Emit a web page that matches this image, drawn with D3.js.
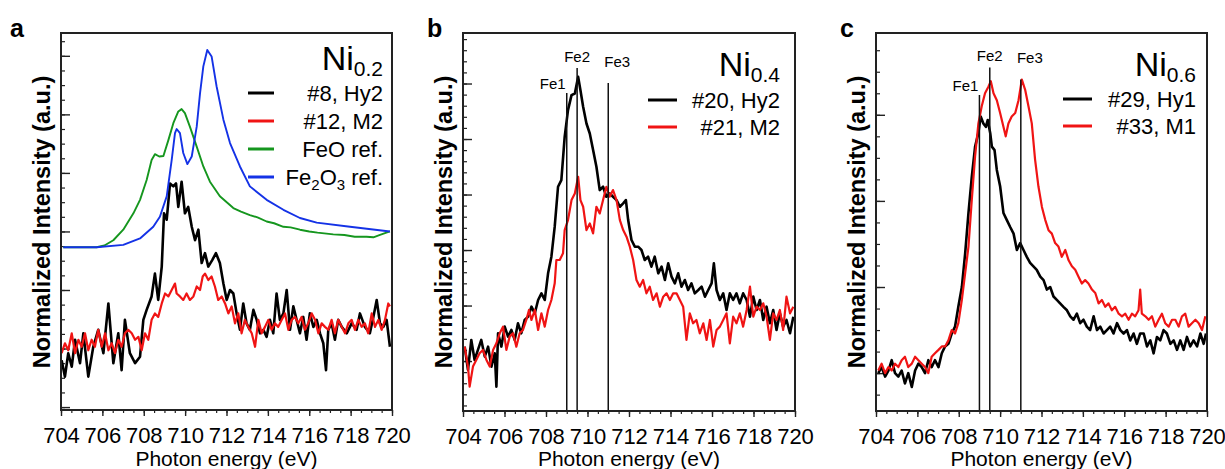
<!DOCTYPE html>
<html>
<head>
<meta charset="utf-8">
<script src="https://cdn.jsdelivr.net/npm/d3@7"></script>
<style>
  body { margin: 0; background: #fff; }
  svg { font-family: "Liberation Sans", Arial, sans-serif; }
  .tickLbl { font-size: 22px; fill: #000; }
  .axTitle { font-size: 21px; fill: #000; }
  .yTitle { font-size: 23.5px; font-weight: bold; fill: #000; }
  .panelLetter { font-size: 25px; font-weight: bold; fill: #000; }
  .leg { font-size: 22px; fill: #000; }
  .feLbl { font-size: 15px; fill: #000; }
</style>
</head>
<body>
<div id="chart"></div>
<script>
// x axis (same for all panels)
var xDomain = [704, 720];
var xMajor = [704, 706, 708, 710, 712, 714, 716, 718, 720];

// peak markers Fe1, Fe2, Fe3 (eV)
var feNames = ["Fe1", "Fe2", "Fe3"];
var feEnergy = [709.0, 709.5, 711.0];

// ---- panel a : Ni0.2 ----
var a_hy2 = [[704.03,0.80],[704.19,0.52],[704.35,0.92],[704.52,0.69],[704.68,1.15],[704.92,0.75],[705.08,1.26],[705.32,0.52],[705.56,1.03],[705.80,1.32],[706.05,0.92],[706.29,1.77],[706.53,0.75],[706.77,1.26],[706.93,0.63],[707.09,1.49],[707.33,0.92],[707.58,0.75],[707.82,0.86],[707.98,1.49],[708.14,1.66],[708.38,1.89],[708.54,2.28],[708.70,1.83],[708.87,2.40],[708.98,3.31],[709.11,3.20],[709.27,3.82],[709.43,3.77],[709.56,3.82],[709.67,3.42],[709.83,3.85],[709.99,3.31],[710.15,3.42],[710.32,3.08],[710.48,2.85],[710.64,3.03],[710.80,2.46],[710.96,2.63],[711.12,2.40],[711.31,2.51],[711.49,2.63],[711.68,2.46],[711.85,2.11],[712.01,1.83],[712.17,2.00],[712.33,1.94],[712.49,1.60],[712.65,1.32],[712.81,1.77],[712.97,1.43],[713.13,1.32],[713.30,1.66],[713.46,1.49],[713.62,1.26],[713.78,1.32],[713.94,1.20],[714.10,1.49],[714.26,1.26],[714.42,1.94],[714.58,1.49],[714.75,1.60],[714.91,2.00],[715.07,1.32],[715.23,1.72],[715.39,1.49],[715.55,1.26],[715.71,1.54],[715.87,1.15],[716.03,1.60],[716.20,1.37],[716.36,1.49],[716.52,1.26],[716.68,1.09],[716.81,0.63],[716.92,1.32],[717.08,1.43],[717.24,1.15],[717.40,1.49],[717.57,1.37],[717.81,1.26],[718.05,1.43],[718.29,1.32],[718.45,1.60],[718.69,1.37],[718.93,1.26],[719.10,1.54],[719.26,1.83],[719.42,1.43],[719.58,1.37],[719.74,1.49],[719.90,1.03]];

var a_m2 = [[704.03,0.92],[704.19,1.09],[704.35,0.97],[704.52,1.26],[704.68,0.92],[704.84,1.15],[705.00,1.03],[705.16,1.26],[705.32,0.97],[705.48,1.15],[705.64,1.03],[705.80,1.32],[705.97,1.03],[706.13,1.26],[706.29,0.97],[706.45,1.09],[706.61,0.92],[706.77,1.15],[706.93,1.03],[707.09,1.26],[707.25,1.32],[707.42,1.26],[707.58,1.15],[707.74,1.20],[707.90,0.97],[708.06,1.26],[708.22,1.15],[708.38,1.49],[708.54,1.60],[708.70,1.54],[708.87,1.77],[709.03,1.94],[709.19,1.89],[709.35,2.00],[709.51,2.11],[709.59,1.94],[709.75,1.89],[709.91,1.83],[710.07,1.94],[710.23,1.83],[710.40,1.89],[710.56,2.06],[710.72,2.00],[710.85,2.23],[710.96,2.28],[711.12,2.17],[711.28,2.23],[711.44,2.06],[711.60,1.83],[711.77,1.89],[711.93,1.77],[712.09,1.60],[712.25,1.72],[712.41,1.43],[712.57,1.60],[712.73,1.26],[712.89,1.49],[713.05,1.37],[713.22,1.26],[713.38,1.03],[713.54,1.49],[713.70,1.26],[713.86,1.37],[714.02,1.49],[714.18,1.32],[714.34,1.43],[714.50,1.37],[714.67,1.49],[714.83,1.60],[714.99,1.32],[715.15,1.49],[715.31,1.54],[715.47,1.43],[715.63,1.54],[715.79,1.32],[715.95,1.43],[716.12,1.60],[716.28,1.49],[716.44,1.26],[716.60,1.43],[716.76,1.37],[716.92,1.32],[717.08,1.49],[717.24,1.26],[717.40,1.49],[717.57,1.37],[717.73,1.26],[717.89,1.43],[718.05,1.49],[718.21,1.32],[718.37,1.49],[718.53,1.37],[718.69,1.43],[718.85,1.26],[719.02,1.60],[719.18,1.37],[719.34,1.49],[719.50,1.32],[719.66,1.49],[719.82,1.77],[719.90,1.72]];

var a_feo = [[704.11,2.73],[705.72,2.73],[706.10,2.76],[706.53,2.85],[707.01,3.03],[707.50,3.31],[707.82,3.54],[708.14,3.88],[708.38,4.22],[708.54,4.32],[708.75,4.28],[708.95,4.29],[709.19,4.56],[709.43,4.85],[709.67,5.05],[709.83,5.09],[709.99,5.02],[710.23,4.79],[710.56,4.45],[710.88,4.11],[711.20,3.85],[711.68,3.60],[712.33,3.40],[712.70,3.34],[713.13,3.28],[713.50,3.24],[713.94,3.17],[714.30,3.14],[714.75,3.08],[715.10,3.07],[715.55,3.03],[716.00,3.00],[716.40,2.98],[717.16,2.95],[717.70,2.94],[718.20,2.91],[718.77,2.91],[719.10,2.90],[719.42,2.94],[719.90,3.00]];

var a_fe2o3 = [[704.11,2.73],[705.72,2.73],[707.01,2.77],[707.82,2.88],[708.46,3.08],[708.78,3.25],[709.11,3.60],[709.35,4.22],[709.51,4.68],[709.59,4.75],[709.75,4.68],[709.91,4.34],[710.11,4.15],[710.32,4.28],[710.56,4.79],[710.72,5.36],[710.88,5.82],[711.07,6.10],[711.28,5.99],[711.52,5.48],[711.85,4.91],[712.17,4.51],[712.65,4.11],[713.13,3.77],[713.94,3.54],[714.75,3.37],[715.55,3.23],[716.36,3.15],[717.97,3.08],[719.90,3.00]];

// ---- panel b : Ni0.4 ----
var b_hy2 = [[704.08,0.26],[704.24,-0.16],[704.40,0.38],[704.56,0.02],[704.72,0.20],[704.88,0.38],[705.05,0.08],[705.21,0.26],[705.37,-0.10],[705.53,0.14],[705.61,-0.46],[705.69,0.50],[705.85,0.26],[706.01,0.62],[706.17,0.44],[706.33,0.56],[706.49,0.38],[706.65,0.68],[706.81,0.50],[706.97,0.74],[707.14,0.80],[707.30,0.98],[707.46,0.86],[707.62,1.10],[707.78,1.22],[707.94,1.10],[708.10,1.58],[708.26,1.88],[708.42,2.42],[708.58,3.14],[708.74,3.26],[708.90,4.04],[709.06,4.52],[709.23,4.79],[709.39,4.82],[709.55,5.12],[709.66,4.88],[709.79,4.58],[709.95,4.28],[710.11,4.10],[710.27,3.80],[710.43,3.50],[710.59,3.08],[710.75,3.14],[710.91,2.96],[711.07,3.02],[711.23,2.96],[711.40,2.90],[711.56,2.78],[711.72,2.84],[711.85,2.90],[711.96,2.54],[712.12,2.18],[712.28,2.06],[712.44,2.06],[712.60,2.00],[712.76,1.82],[712.92,1.88],[713.08,1.70],[713.24,1.88],[713.41,1.58],[713.57,1.70],[713.73,1.46],[713.89,1.76],[714.05,1.52],[714.21,1.40],[714.37,1.58],[714.53,1.34],[714.69,1.46],[714.85,1.28],[715.01,1.40],[715.17,1.22],[715.34,1.28],[715.50,1.34],[715.66,1.16],[715.82,1.28],[715.98,1.40],[716.09,1.76],[716.22,1.28],[716.38,1.10],[716.54,1.22],[716.70,0.92],[716.86,1.22],[717.02,1.10],[717.18,1.22],[717.34,1.04],[717.50,1.22],[717.67,1.10],[717.83,0.80],[717.99,1.16],[718.15,0.92],[718.31,1.10],[718.47,0.74],[718.63,0.98],[718.79,0.68],[718.95,0.92],[719.11,0.56],[719.27,0.86],[719.43,0.62],[719.59,0.74],[719.76,0.50],[719.92,0.80]];

var b_m2 = [[704.08,0.26],[704.24,-0.10],[704.32,-0.46],[704.48,-0.10],[704.64,0.02],[704.80,0.14],[704.96,0.20],[705.13,0.02],[705.29,-0.10],[705.45,0.20],[705.61,0.32],[705.77,0.50],[705.93,0.62],[706.09,0.20],[706.25,0.44],[706.41,0.50],[706.57,0.26],[706.73,0.50],[706.89,0.56],[707.05,0.74],[707.18,0.92],[707.30,0.74],[707.46,0.92],[707.62,0.56],[707.78,0.86],[707.94,0.62],[708.10,0.92],[708.26,1.10],[708.42,1.40],[708.50,1.82],[708.66,1.82],[708.82,1.94],[708.90,2.36],[709.06,2.54],[709.23,2.90],[709.39,3.02],[709.55,3.32],[709.66,2.90],[709.79,2.78],[709.95,2.36],[710.11,2.48],[710.27,2.30],[710.43,2.78],[710.59,2.66],[710.75,2.90],[710.91,3.14],[711.07,2.96],[711.23,3.08],[711.40,2.90],[711.56,2.54],[711.72,2.36],[711.88,2.24],[712.04,2.06],[712.20,1.82],[712.36,1.46],[712.52,1.34],[712.68,1.46],[712.84,1.22],[713.00,1.34],[713.16,1.10],[713.33,1.22],[713.49,0.98],[713.65,1.16],[713.81,1.22],[713.97,1.10],[714.13,1.22],[714.29,1.22],[714.45,1.10],[714.61,0.98],[714.77,0.38],[714.93,0.86],[715.09,0.68],[715.25,0.74],[715.41,0.50],[715.58,0.68],[715.74,0.38],[715.90,0.74],[716.06,0.26],[716.22,0.56],[716.38,0.62],[716.54,0.74],[716.70,0.86],[716.86,0.32],[717.02,0.80],[717.18,0.68],[717.34,0.86],[717.50,0.62],[717.67,0.92],[717.83,1.34],[717.99,0.80],[718.15,0.98],[718.31,0.92],[718.47,1.04],[718.63,0.80],[718.79,0.38],[718.95,0.86],[719.11,0.74],[719.27,0.92],[719.43,0.56],[719.59,1.16],[719.76,0.86],[719.92,0.98]];

var b_feTop = [4.83, 5.28, 5.01];

// ---- panel c : Ni0.6 ----
var c_hy1 = [[704.11,0.00],[704.27,0.07],[704.44,-0.04],[704.60,0.03],[704.76,0.15],[704.92,0.00],[705.08,-0.04],[705.24,0.03],[705.40,-0.12],[705.56,0.00],[705.73,-0.16],[705.89,0.03],[706.05,0.11],[706.21,0.07],[706.37,0.00],[706.53,0.15],[706.69,0.07],[706.85,0.15],[707.02,0.07],[707.18,0.23],[707.34,0.31],[707.50,0.34],[707.66,0.46],[707.82,0.54],[707.98,0.77],[708.15,1.00],[708.31,1.39],[708.47,1.86],[708.63,2.28],[708.79,2.63],[708.95,2.79],[709.06,2.98],[709.19,2.90],[709.31,2.86],[709.40,2.94],[709.52,2.79],[709.60,2.63],[709.73,2.59],[709.84,2.36],[710.00,2.17],[710.16,1.86],[710.32,1.78],[710.48,1.70],[710.65,1.62],[710.81,1.43],[710.97,1.51],[711.13,1.43],[711.29,1.35],[711.45,1.28],[711.61,1.24],[711.77,1.20],[711.94,1.12],[712.10,1.08],[712.26,0.97],[712.42,1.00],[712.58,0.89],[712.74,0.85],[712.90,0.81],[713.06,0.77],[713.23,0.73],[713.39,0.66],[713.55,0.62],[713.71,0.69],[713.87,0.58],[714.03,0.62],[714.19,0.54],[714.35,0.50],[714.52,0.66],[714.68,0.50],[714.84,0.54],[715.00,0.46],[715.16,0.50],[715.32,0.54],[715.48,0.46],[715.65,0.58],[715.81,0.50],[715.97,0.46],[716.13,0.50],[716.29,0.38],[716.45,0.46],[716.61,0.34],[716.77,0.46],[716.94,0.46],[717.10,0.31],[717.26,0.38],[717.42,0.23],[717.58,0.42],[717.74,0.38],[717.90,0.50],[718.06,0.46],[718.23,0.34],[718.39,0.38],[718.55,0.27],[718.71,0.38],[718.87,0.27],[719.03,0.42],[719.19,0.31],[719.35,0.38],[719.52,0.31],[719.68,0.46],[719.84,0.34],[719.95,0.46]];

var c_m1 = [[704.11,0.03],[704.27,0.11],[704.44,0.00],[704.60,0.07],[704.76,0.03],[704.92,0.11],[705.08,0.07],[705.24,0.15],[705.40,0.19],[705.56,0.07],[705.73,0.11],[705.89,0.19],[706.05,0.15],[706.21,0.11],[706.37,0.07],[706.53,0.00],[706.69,0.19],[706.85,0.23],[707.02,0.27],[707.18,0.31],[707.34,0.31],[707.50,0.38],[707.66,0.50],[707.82,0.46],[707.98,0.58],[708.15,0.85],[708.31,1.16],[708.47,1.47],[708.63,2.01],[708.79,2.52],[708.95,2.90],[709.11,3.10],[709.27,3.25],[709.44,3.33],[709.55,3.39],[709.68,3.25],[709.84,3.17],[710.00,3.02],[710.16,2.86],[710.27,2.75],[710.40,2.90],[710.56,2.98],[710.73,3.02],[710.89,3.17],[711.05,3.41],[711.21,3.29],[711.37,3.10],[711.53,2.90],[711.69,2.48],[711.85,2.17],[712.02,1.93],[712.18,1.78],[712.34,1.66],[712.50,1.62],[712.66,1.51],[712.82,1.47],[712.98,1.35],[713.15,1.43],[713.31,1.31],[713.47,1.24],[713.63,1.20],[713.79,1.12],[713.95,1.04],[714.11,1.08],[714.27,1.04],[714.44,0.97],[714.60,0.93],[714.76,0.81],[714.92,0.85],[715.08,0.77],[715.24,0.81],[715.40,0.73],[715.56,0.77],[715.73,0.69],[715.89,0.66],[716.05,0.69],[716.21,0.62],[716.37,0.69],[716.53,0.66],[716.69,0.73],[716.77,0.97],[716.85,0.69],[717.02,0.66],[717.18,0.62],[717.34,0.66],[717.50,0.54],[717.66,0.62],[717.82,0.69],[717.98,0.58],[718.15,0.54],[718.31,0.62],[718.47,0.62],[718.63,0.54],[718.79,0.66],[718.95,0.69],[719.11,0.54],[719.27,0.58],[719.44,0.62],[719.60,0.58],[719.76,0.50],[719.92,0.66]];

var c_feTop = [3.23, 3.55, 3.41];

var W = 1225, H = 469;
var svg = d3.select("#chart").append("svg")
  .attr("width", W).attr("height", H);

var panels = [
  { letter: "a", left: 61, right: 392, top: 33, bottom: 410, yDom: [-0.05, 6.39], minor: 0.25,
    sub: "0.2", legRight: 383, niY: 70, legY: 93, legStep: 28, lineX: [248, 274],
    series: [
      { name: "#8, Hy2", data: a_hy2, color: "#000", w: 2.6 },
      { name: "#12, M2", data: a_m2, color: "#f01414", w: 2.2 },
      { name: "FeO ref.", data: a_feo, color: "#15961e", w: 1.9 },
      { name: "Fe2O3 ref.", data: a_fe2o3, color: "#1432e6", w: 1.9 }
    ] },
  { letter: "b", left: 463, right: 795, top: 33, bottom: 411, yDom: [-0.9, 5.91], minor: 0.2,
    sub: "0.4", legRight: 780, niY: 76, legY: 100, legStep: 27, lineX: [648, 677], fe: b_feTop,
    series: [
      { name: "#20, Hy2", data: b_hy2, color: "#000", w: 2.6 },
      { name: "#21, M2", data: b_m2, color: "#f01414", w: 2.2 }
    ] },
  { letter: "c", left: 876, right: 1207, top: 33, bottom: 411, yDom: [-0.44, 3.95], minor: 0.25,
    sub: "0.6", legRight: 1196, niY: 76, legY: 99, legStep: 27, lineX: [1063, 1092], fe: c_feTop,
    series: [
      { name: "#29, Hy1", data: c_hy1, color: "#000", w: 2.6 },
      { name: "#33, M1", data: c_m1, color: "#f01414", w: 2.2 }
    ] }
];

panels.forEach(function(p) {
  var x = d3.scaleLinear().domain(xDomain).range([p.left, p.right]);
  var y = d3.scaleLinear().domain(p.yDom).range([p.bottom, p.top]);
  var g = svg.append("g");

  // y ticks (inside, no labels)
  var yMajor = d3.range(Math.ceil(p.yDom[0]), p.yDom[1], 1);
  var yMinor = d3.range(Math.ceil(p.yDom[0] / p.minor) * p.minor, p.yDom[1], p.minor);
  g.append("g").attr("transform", "translate(" + p.left + ",0)")
    .call(d3.axisLeft(y).tickValues(yMinor).tickSize(-4).tickFormat(""))
    .call(function(s) { s.select(".domain").remove(); s.selectAll("line").attr("stroke", "#222").attr("stroke-width", 1.2); });
  g.append("g").attr("transform", "translate(" + p.left + ",0)")
    .call(d3.axisLeft(y).tickValues(yMajor).tickSize(-9).tickFormat(""))
    .call(function(s) { s.select(".domain").remove(); s.selectAll("line").attr("stroke", "#222").attr("stroke-width", 1.4); });

  // x ticks (outside)
  g.append("g").attr("transform", "translate(0," + p.bottom + ")")
    .call(d3.axisBottom(x).tickValues(d3.range(704, 720.01, 0.5)).tickSize(3).tickFormat(""))
    .call(function(s) { s.select(".domain").remove(); s.selectAll("line").attr("stroke", "#222").attr("stroke-width", 1.2); });
  var xa = g.append("g").attr("transform", "translate(0," + p.bottom + ")")
    .call(d3.axisBottom(x).tickValues(xMajor).tickSize(6).tickPadding(11).tickFormat(d3.format("d")));
  xa.select(".domain").remove();
  xa.selectAll("line").attr("stroke", "#222").attr("stroke-width", 1.4);
  xa.selectAll("text").attr("class", "tickLbl").attr("font-family", null).attr("font-size", null).attr("fill", null);

  // curves
  var line = d3.line().x(function(d) { return x(d[0]); }).y(function(d) { return y(d[1]); });
  p.series.forEach(function(s) {
    g.append("path").datum(s.data)
      .attr("fill", "none").attr("stroke", s.color).attr("stroke-width", s.w)
      .attr("stroke-linejoin", "round").attr("d", line);
  });

  // Fe marker lines
  if (p.fe) {
    var lblDx = [-14, 0, 9], lblDy = [-4, -6, -16];
    feEnergy.forEach(function(e, i) {
      g.append("line").attr("x1", x(e)).attr("x2", x(e))
        .attr("y1", p.bottom).attr("y2", y(p.fe[i]))
        .attr("stroke", "#111").attr("stroke-width", 1.5);
      g.append("text").attr("class", "feLbl").attr("text-anchor", "middle")
        .attr("x", x(e) + lblDx[i]).attr("y", y(p.fe[i]) + lblDy[i]).text(feNames[i]);
    });
  }

  // frame
  g.append("rect").attr("x", p.left).attr("y", p.top)
    .attr("width", p.right - p.left).attr("height", p.bottom - p.top)
    .attr("fill", "none").attr("stroke", "#222").attr("stroke-width", 2);

  // legend title Ni_x
  var ni = g.append("text").attr("class", "leg").attr("text-anchor", "end")
    .attr("x", p.legRight).attr("y", p.niY);
  ni.append("tspan").attr("font-size", 34).text("Ni");
  ni.append("tspan").attr("font-size", 21).attr("dy", 6).text(p.sub);

  p.series.forEach(function(s, i) {
    var ly = p.legY + i * p.legStep;
    g.append("line").attr("x1", p.lineX[0]).attr("x2", p.lineX[1])
      .attr("y1", ly).attr("y2", ly).attr("stroke", s.color).attr("stroke-width", 3);
    var t = g.append("text").attr("class", "leg").attr("text-anchor", "end")
      .attr("x", p.legRight).attr("y", ly + 8);
    if (s.name === "Fe2O3 ref.") {
      t.append("tspan").text("Fe");
      t.append("tspan").attr("font-size", 15).attr("dy", 5).text("2");
      t.append("tspan").attr("dy", -5).text("O");
      t.append("tspan").attr("font-size", 15).attr("dy", 5).text("3");
      t.append("tspan").attr("dy", -5).text(" ref.");
    } else {
      t.text(s.name);
    }
  });

  // axis titles
  var cx = (p.left + p.right) / 2;
  g.append("text").attr("class", "axTitle").attr("text-anchor", "middle")
    .attr("x", cx).attr("y", 466).text("Photon energy (eV)");
  g.append("text").attr("class", "yTitle").attr("text-anchor", "middle")
    .attr("transform", "translate(" + (p.left - 11) + ",222) rotate(-90)")
    .text("Normalized Intensity (a.u.)");

  g.append("text").attr("class", "panelLetter")
    .attr("x", p.left - (p.letter === "a" ? 51 : 36)).attr("y", 37).text(p.letter);
});
</script>
</body>
</html>
